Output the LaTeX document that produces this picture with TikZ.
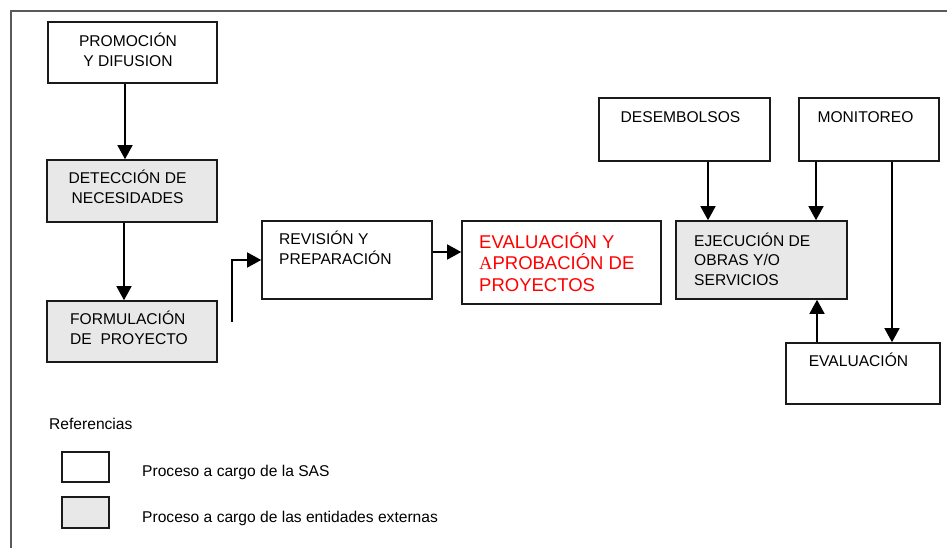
\documentclass[tikz,border=0pt]{standalone}
\usepackage{fontspec}
\setmainfont{Liberation Sans}
\newfontfamily\serifA{Liberation Serif}
\usetikzlibrary{arrows.meta}
\definecolor{boxgray}{HTML}{E8E8E8}
\definecolor{edge}{HTML}{1A1A1A}
\definecolor{framegray}{HTML}{5A5A5A}
\definecolor{redtxt}{HTML}{FF0000}
\newcommand{\fstrut}{\rule{0pt}{16pt}}
\newcommand{\rstrut}{\rule{0pt}{19pt}}
\begin{document}
\begin{tikzpicture}[x=1pt,y=-1pt,
  box/.style={draw=edge,line width=1.6pt,fill=white,rectangle,inner sep=0pt},
  gbox/.style={box,fill=boxgray},
  txt/.style={inner sep=0pt,font=\fontsize{15.6}{20}\selectfont},
  ctxt/.style={txt,anchor=north,align=center},
  ltxt/.style={txt,anchor=north west,align=left},
  rtxt/.style={inner sep=0pt,anchor=north west,align=left,text=redtxt,font=\fontsize{18.5}{21.5}\selectfont},
  arr/.style={draw=black,line width=1.4pt,-{Triangle[length=14pt,width=15pt]}},
  ln/.style={draw=black,line width=1.4pt}]
\useasboundingbox (0,0) rectangle (947,548);
% frame
\draw[framegray,line width=1.4pt] (947,11) -- (11,11) -- (11,548);

% boxes
\node[box,minimum width=169pt,minimum height=61pt] (promo) at (132.5,52.5) {};
\node[gbox,minimum width=170pt,minimum height=62pt] (detec) at (132,191) {};
\node[gbox,minimum width=170pt,minimum height=61pt] (form) at (132,331.5) {};
\node[box,minimum width=170pt,minimum height=78pt] (rev) at (347,260) {};
\node[box,minimum width=199pt,minimum height=83pt] (eval) at (561.5,262.5) {};
\node[gbox,minimum width=171pt,minimum height=78pt] (eje) at (761.5,260) {};
\node[box,minimum width=171pt,minimum height=63pt] (des) at (684.5,129.5) {};
\node[box,minimum width=140pt,minimum height=63pt] (mon) at (869,129.5) {};
\node[box,minimum width=154pt,minimum height=61pt] (evb) at (863,373.5) {};
\node[box,minimum width=47pt,minimum height=30pt] (leg1) at (85.5,467) {};
\node[gbox,minimum width=47pt,minimum height=31pt] (leg2) at (85.5,512.5) {};

% texts
\node[ctxt] (tpromo) at (128,30) {\fstrut PROMOCIÓN\\Y DIFUSION};
\node[ctxt] (tdetec) at (127.5,167) {\fstrut DETECCIÓN DE\\NECESIDADES};
\node[ltxt] (tform) at (70,308) {\fstrut FORMULACIÓN\\DE\ \ PROYECTO};
\node[ltxt] (trev) at (279,228) {\fstrut REVISIÓN Y\\PREPARACIÓN};
\node[rtxt] (teval) at (479,229) {\rstrut EVALUACIÓN Y\\{\serifA A}PROBACIÓN DE\\PROYECTOS};
\node[ltxt,font=\fontsize{15.6}{19.5}\selectfont] (teje) at (694,230) {\fstrut EJECUCIÓN DE\\OBRAS Y/O\\SERVICIOS};
\node[ctxt] (tdes) at (680.5,106) {\fstrut DESEMBOLSOS};
\node[ctxt] (tmon) at (865.5,106) {\fstrut MONITOREO};
\node[ctxt] (tevb) at (858.5,350) {\fstrut EVALUACIÓN};
\node[ltxt] (tref) at (49,413) {\fstrut Referencias};
\node[ltxt] (tleg1) at (142,460) {\fstrut Proceso a cargo de la SAS};
\node[ltxt] (tleg2) at (142,506) {\fstrut Proceso a cargo de las entidades externas};

% connectors
\draw[arr] ([xshift=-7.5pt]promo.south) coordinate (a1) -- (a1 |- detec.north);
\draw[arr] ([xshift=-8pt]detec.south) coordinate (a2) -- (a2 |- form.north);
\coordinate (fstart) at (232,322);
\draw[arr] (fstart) |- (rev.west);
\draw[arr] ([yshift=8pt]rev.east) coordinate (a3) -- (a3 -| eval.west);
\draw[arr] ([xshift=23.5pt]des.south) coordinate (a4) -- (a4 |- eje.north);
\draw[arr] ([xshift=-53pt]mon.south) coordinate (a5) -- (a5 |- eje.north);
\draw[arr] ([xshift=23pt]mon.south) coordinate (a6) -- (a6 |- evb.north);
\draw[arr] ([xshift=-46pt]evb.north) coordinate (a7) -- (a7 |- eje.south);
\end{tikzpicture}
\end{document}
